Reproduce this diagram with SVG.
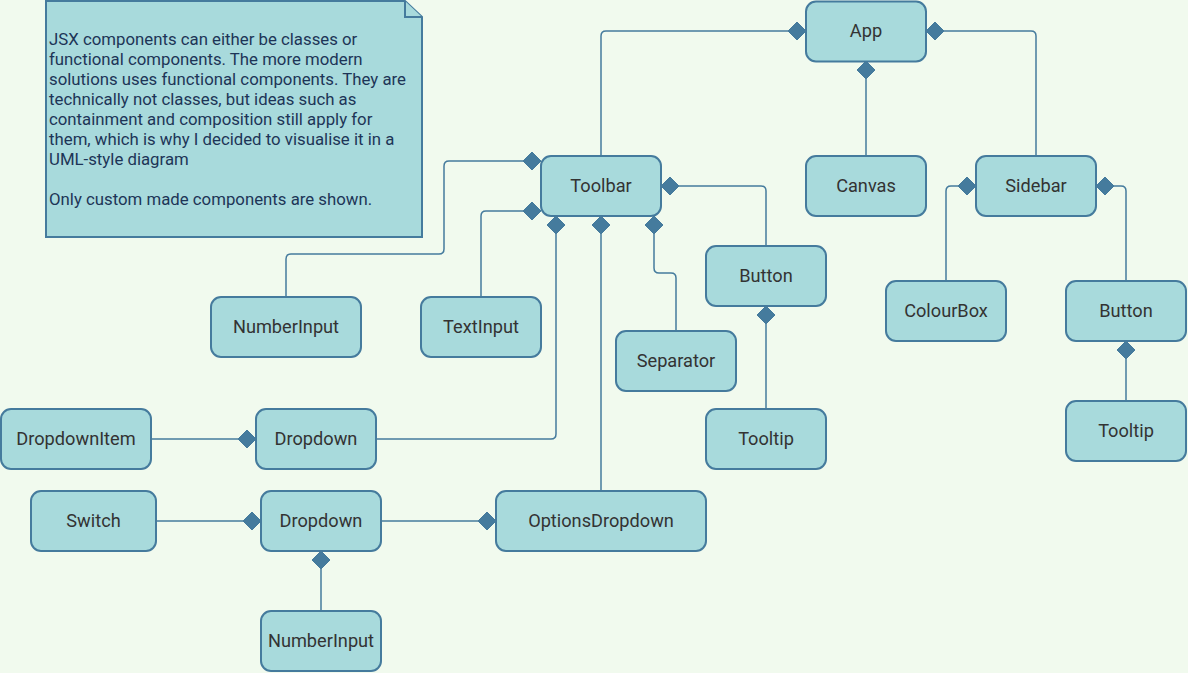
<svg xmlns="http://www.w3.org/2000/svg" width="1188" height="673" viewBox="0 0 1188 673">
<style>
.node rect{fill:#a8dadc;stroke:#457b9d;stroke-width:2}
.node text{font-family:Roboto,"Liberation Sans",sans-serif;font-size:18.2px;fill:#333333;text-anchor:middle;dominant-baseline:central}
.note path{fill:#a8dadc;stroke:#457b9d;stroke-width:2}
.note text{font-family:Roboto,"Liberation Sans",sans-serif;font-size:16.8px;fill:#1d3557}
.edges path{fill:none;stroke:#457b9d;stroke-width:1.5;marker-end:url(#dia)}
</style>
<defs>
<marker id="dia" markerUnits="userSpaceOnUse" markerWidth="20" markerHeight="20" viewBox="-1 -10 20 20" refX="18" refY="0" orient="auto">
<path d="M0,0 L9,-9 L18,0 L9,9 Z" fill="#457b9d" stroke="#457b9d" stroke-width="1"/>
</marker>
</defs>
<rect width="1188" height="673" fill="#f1faee"/>
<g id="note" class="note">
<path d="M46,1 H405 L422,17 V237 H46 Z"/>
<path d="M405,1 V17 H422" fill="none"/>
<text x="49" y="45">JSX components can either be classes or</text>
<text x="49" y="65">functional components. The more modern</text>
<text x="49" y="85">solutions uses functional components. They are</text>
<text x="49" y="105">technically not classes, but ideas such as</text>
<text x="49" y="125">containment and composition still apply for</text>
<text x="49" y="145">them, which is why I decided to visualise it in a</text>
<text x="49" y="165">UML-style diagram</text>
<text x="49" y="205">Only custom made components are shown.</text>
</g>
<g class="edges" id="connectors">
<path d="M601,156 V36 Q601,31 606,31 H806"/>
<path d="M866,156 V61"/>
<path d="M1036,156 V36 Q1036,31 1031,31 H926"/>
<path d="M286,297 V259 Q286,254 291,254 H439 Q444,254 444,249 V166 Q444,161 449,161 H541"/>
<path d="M481,297 V216 Q481,211 486,211 H541"/>
<path d="M376,439 H551 Q556,439 556,434 V216"/>
<path d="M601,491 V216"/>
<path d="M676,331 V278 Q676,273 671,273 H659 Q654,273 654,268 V216"/>
<path d="M766,246 V191 Q766,186 761,186 H661"/>
<path d="M766,409 V306"/>
<path d="M946,281 V191 Q946,186 951,186 H976"/>
<path d="M1126,281 V191 Q1126,186 1121,186 H1096"/>
<path d="M1126,401 V341"/>
<path d="M151,439 H256"/>
<path d="M156,521 H261"/>
<path d="M321,611 V551"/>
<path d="M381,521 H496"/>
</g>
<g id="app" class="node"><rect x="806" y="1.5" width="120" height="60" rx="10"/><text x="866" y="30.5">App</text></g>
<g id="toolbar" class="node"><rect x="541" y="156" width="120" height="60" rx="10"/><text x="601" y="185">Toolbar</text></g>
<g id="canvas" class="node"><rect x="806" y="156" width="120" height="60" rx="10"/><text x="866" y="185">Canvas</text></g>
<g id="sidebar" class="node"><rect x="976" y="156" width="120" height="60" rx="10"/><text x="1036" y="185">Sidebar</text></g>
<g id="colourbox" class="node"><rect x="886" y="281" width="120" height="60" rx="10"/><text x="946" y="310">ColourBox</text></g>
<g id="button-sidebar" class="node"><rect x="1066" y="281" width="120" height="60" rx="10"/><text x="1126" y="310">Button</text></g>
<g id="tooltip-sidebar" class="node"><rect x="1066" y="401" width="120" height="60" rx="10"/><text x="1126" y="430">Tooltip</text></g>
<g id="button-toolbar" class="node"><rect x="706" y="246" width="120" height="60" rx="10"/><text x="766" y="275">Button</text></g>
<g id="separator" class="node"><rect x="616" y="331" width="120" height="60" rx="10"/><text x="676" y="360">Separator</text></g>
<g id="tooltip-toolbar" class="node"><rect x="706" y="409" width="120" height="60" rx="10"/><text x="766" y="438">Tooltip</text></g>
<g id="numberinput-top" class="node"><rect x="211" y="297" width="150" height="60" rx="10"/><text x="286" y="326">NumberInput</text></g>
<g id="textinput" class="node"><rect x="421" y="297" width="120" height="60" rx="10"/><text x="481" y="326">TextInput</text></g>
<g id="dropdownitem" class="node"><rect x="1" y="409" width="150" height="60" rx="10"/><text x="76" y="438">DropdownItem</text></g>
<g id="dropdown-1" class="node"><rect x="256" y="409" width="120" height="60" rx="10"/><text x="316" y="438">Dropdown</text></g>
<g id="switch" class="node"><rect x="31" y="491" width="125" height="60" rx="10"/><text x="93.5" y="520">Switch</text></g>
<g id="dropdown-2" class="node"><rect x="261" y="491" width="120" height="60" rx="10"/><text x="321" y="520">Dropdown</text></g>
<g id="numberinput-bottom" class="node"><rect x="261" y="611" width="120" height="60" rx="10"/><text x="321" y="640">NumberInput</text></g>
<g id="optionsdropdown" class="node"><rect x="496" y="491" width="210" height="60" rx="10"/><text x="601" y="520">OptionsDropdown</text></g>
</svg>
